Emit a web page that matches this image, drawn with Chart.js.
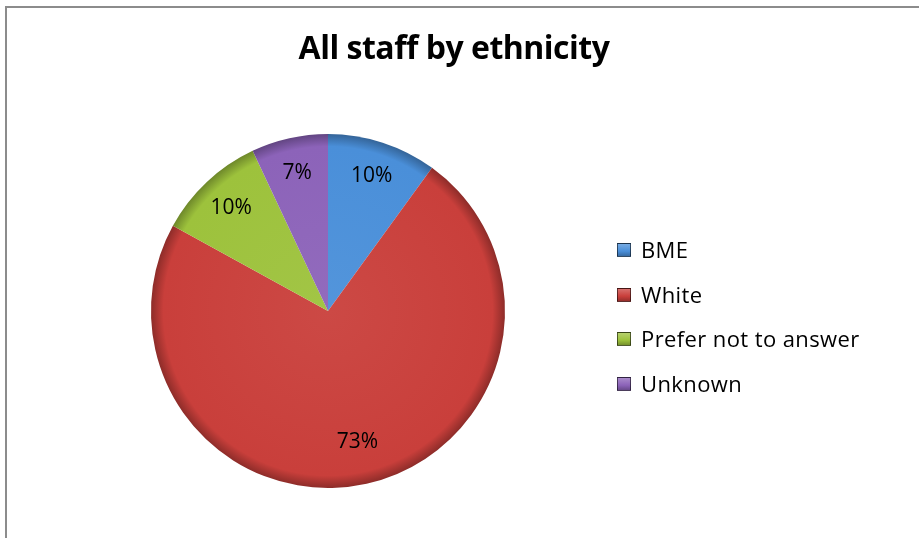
<!DOCTYPE html>
<html>
<head>
<meta charset="utf-8">
<script src="https://cdn.jsdelivr.net/npm/chart.js@4"></script>
<style>
  html, body { margin: 0; padding: 0; background: #fff; }
  #wrap { position: relative; width: 919px; height: 538px; overflow: hidden; }
  #frame { position: absolute; left: 5px; top: 6px; width: 930px; height: 560px;
           border: 2px solid #8c8c8c; box-sizing: border-box; }
  #title { position: absolute; left: 0; top: 25px; width: 908px; text-align: center;
           font-family: "Open Sans", sans-serif; font-weight: 700; font-size: 32px;
           letter-spacing: -0.5px; color: #000; }
  #legend { position: absolute; left: 617px; top: 234px; font-family: "Open Sans", sans-serif;
            font-size: 22px; letter-spacing: 0.4px; color: #000; }
  #legend div { height: 44.5px; display: flex; align-items: flex-start; }
  #legend span.box { display: inline-block; width: 12px; height: 12px; margin: 9px 10px 0 0;
                     border: 1px solid rgba(0,0,0,0.55); }
  canvas { position: absolute; left: 0; top: 0; }
</style>
</head>
<body>
<div id="wrap">
  <div id="frame"></div>
  <canvas id="pie" width="919" height="538"></canvas>
  <div id="title">All staff by ethnicity</div>
  <div id="legend"></div>
</div>
<script>
// ===============================
//  Staff by ethnicity - pie
// ===============================

const categories = ['BME', 'White', 'Prefer not to answer', 'Unknown'];
const shares = [10, 73, 10, 7];
const colors = ['#4a8fd9', '#c93f3b', '#9dc23c', '#8c63b9'];

// Shade a hex colour (amt < 0 darker, > 0 lighter)
function shade(hex, amt) {
  const n = parseInt(hex.slice(1), 16);
  let r = (n >> 16) & 255, g = (n >> 8) & 255, b = n & 255;
  const f = (c) => Math.round(amt < 0 ? c * (1 + amt) : c + (255 - c) * amt);
  return `rgb(${f(r)}, ${f(g)}, ${f(b)})`;
}

// Bevel-ish radial fill per slice
function sliceFill(ctx) {
  const chart = ctx.chart;
  const area = chart.chartArea;
  const base = colors[ctx.dataIndex];
  if (!area) return base;
  const cx = (area.left + area.right) / 2;
  const cy = (area.top + area.bottom) / 2;
  const r = Math.min(area.right - area.left, area.bottom - area.top) / 2;
  const g = chart.ctx.createRadialGradient(cx, cy, 0, cx, cy, r);
  g.addColorStop(0, shade(base, 0.05));
  g.addColorStop(0.93, base);
  g.addColorStop(1, shade(base, -0.3));
  return g;
}

// Percent labels inside slices
const percentLabels = {
  id: 'percentLabels',
  afterDatasetsDraw(chart) {
    const { ctx } = chart;
    const meta = chart.getDatasetMeta(0);
    const total = shares.reduce((a, b) => a + b, 0);
    ctx.save();
    ctx.font = '21px "Open Sans", sans-serif';
    ctx.fillStyle = '#000';
    ctx.textAlign = 'center';
    ctx.textBaseline = 'middle';
    meta.data.forEach((arc, i) => {
      const mid = (arc.startAngle + arc.endAngle) / 2;
      const rr = arc.outerRadius * (i === 1 ? 0.76 : 0.8);
      const x = arc.x + Math.cos(mid) * rr;
      const y = arc.y + Math.sin(mid) * rr;
      ctx.fillText(Math.round(shares[i] / total * 100) + '%', x, y);
    });
    ctx.restore();
  }
};

new Chart(document.getElementById('pie').getContext('2d'), {
  type: 'pie',
  data: {
    labels: categories,
    datasets: [{
      data: shares,
      backgroundColor: sliceFill,
      borderWidth: 0
    }]
  },
  options: {
    responsive: false,
    animation: false,
    layout: { padding: { left: 151, right: 414, top: 134, bottom: 50 } },
    plugins: {
      legend: { display: false },
      tooltip: { enabled: false }
    }
  },
  plugins: [percentLabels]
});

// Legend from the same arrays
const legend = document.getElementById('legend');
categories.forEach((name, i) => {
  const row = document.createElement('div');
  const box = document.createElement('span');
  box.className = 'box';
  box.style.background = `linear-gradient(${shade(colors[i], 0.25)}, ${colors[i]} 60%, ${shade(colors[i], -0.25)})`;
  row.appendChild(box);
  row.appendChild(document.createTextNode(name));
  legend.appendChild(row);
});
</script>
</body>
</html>
